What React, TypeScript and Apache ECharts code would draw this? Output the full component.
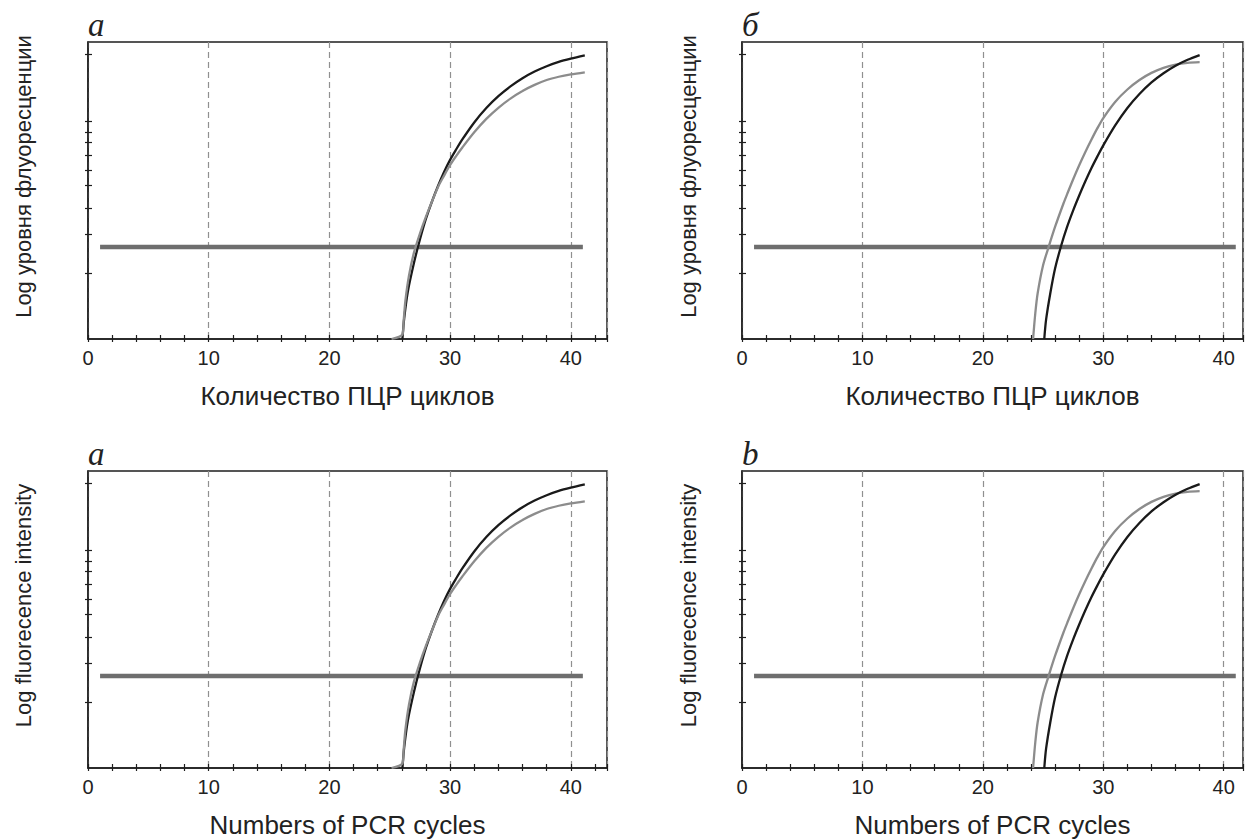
import React, { useEffect, useRef } from "react";
import * as echarts from "echarts";

// ---- data ----
const xTickLabels = [0, 10, 20, 30, 40];
const yTickValues = [22.1, 35.3, 44.0, 51.9, 56.9, 62.0, 66.4, 69.5, 73.2, 96.0];

const thresholdCycles = [1, 41];
const thresholdLevel = [31, 31];

// panel a (а)
const cyclesBlackA = [26.05, 26.2, 26.5, 27, 27.5, 28, 28.5, 29, 29.5, 30, 30.5, 31, 32, 33, 34, 35, 36, 37, 38, 39, 40, 41.16];
const fluorBlackA = [0, 7, 16, 25.5, 33.5, 40.5, 46.3, 51.5, 56.2, 60.3, 63.8, 67.1, 72.9, 77.75, 81.75, 85.05, 87.8, 90.05, 91.85, 93.3, 94.4, 95.5];
const cyclesGrayA = [25.15, 26.06, 26.15, 26.3, 26.6, 27, 27.5, 28, 28.5, 29, 29.5, 30, 30.5, 31, 32, 33, 34, 35, 36, 37, 38, 39, 40, 41.16];
const fluorGrayA = [0, 1.6, 6, 13, 21.5, 29, 35.5, 41.2, 46.3, 51.2, 55, 58.6, 61.6, 64.4, 69.6, 74.1, 77.85, 80.95, 83.5, 85.55, 87.2, 88.3, 89.1, 89.8];

// panel b (б)
const cyclesBlackB = [25.1, 25.25, 25.6, 26, 26.5, 27, 27.5, 28, 28.5, 29, 29.5, 30, 31, 32, 33, 34, 35, 36, 37, 38];
const fluorBlackB = [0, 6.5, 15.4, 23.8, 31.4, 37.8, 43.3, 48.3, 53, 57.4, 61.4, 65.2, 72, 77.8, 82.5, 86.4, 89.5, 92.0, 94.0, 95.6];
const cyclesGrayB = [24.17, 24.35, 24.55, 25, 25.47, 26, 26.7, 27, 27.5, 28, 28.5, 29, 29.5, 30, 31, 32, 33, 34, 35, 36, 37, 38];
const fluorGrayB = [0, 8.5, 15.4, 24.8, 31.1, 37.8, 45.7, 48.8, 53.8, 58.5, 62.9, 67, 70.9, 74.4, 79.9, 84.0, 87.2, 89.6, 91.3, 92.4, 93.0, 93.2];

const zip = (xs: number[], ys: number[]) => xs.map((x, i) => [x, ys[i]]);

const FONT = "Liberation Sans";
const DARK = "#1e1e1e";

type Panel = {
  left: number;
  top: number;
  width: number;
  xMax: number;
  letter: string;
  yName: string;
  xName: string;
  yNameGap: number;
  black: number[][];
  gray: number[][];
  grayOnTop: boolean;
};

const RU_Y = "Log уровня флуоресценции";
const RU_X = "Количество ПЦР циклов";
const EN_Y = "Log fluorecence intensity";
const EN_X = "Numbers of PCR cycles";

const panels: Panel[] = [
  { left: 88, top: 42, width: 519, xMax: 43, letter: "а", yName: RU_Y, xName: RU_X, yNameGap: 54, black: zip(cyclesBlackA, fluorBlackA), gray: zip(cyclesGrayA, fluorGrayA), grayOnTop: true },
  { left: 742, top: 42, width: 501, xMax: 41.6, letter: "б", yName: RU_Y, xName: RU_X, yNameGap: 43, black: zip(cyclesBlackB, fluorBlackB), gray: zip(cyclesGrayB, fluorGrayB), grayOnTop: false },
  { left: 88, top: 471, width: 519, xMax: 43, letter: "a", yName: EN_Y, xName: EN_X, yNameGap: 54, black: zip(cyclesBlackA, fluorBlackA), gray: zip(cyclesGrayA, fluorGrayA), grayOnTop: true },
  { left: 742, top: 471, width: 501, xMax: 41.6, letter: "b", yName: EN_Y, xName: EN_X, yNameGap: 43, black: zip(cyclesBlackB, fluorBlackB), gray: zip(cyclesGrayB, fluorGrayB), grayOnTop: false },
];

const PLOT_H = 297;

function buildOption() {
  const grid: any[] = [];
  const xAxis: any[] = [];
  const yAxis: any[] = [];
  const series: any[] = [];
  const graphic: any[] = [];

  panels.forEach((p, i) => {
    grid.push({
      left: p.left,
      top: p.top,
      width: p.width,
      height: PLOT_H,
      show: true,
      borderColor: DARK,
      borderWidth: 1.5,
      backgroundColor: "transparent",
      containLabel: false,
      outerBoundsMode: "none",
    });
    // main x axis: labels + inside ticks
    xAxis.push({
      gridIndex: i,
      type: "value",
      position: "bottom",
      min: 0,
      max: p.xMax,
      interval: 2,
      axisLine: { show: true, onZero: false, lineStyle: { color: DARK, width: 1.5 } },
      axisTick: { show: true, inside: true, length: 4, lineStyle: { color: DARK, width: 1.2 } },
      axisLabel: {
        show: true,
        customValues: xTickLabels,
        fontSize: 20,
        color: "#222",
        margin: 9,
        fontFamily: FONT,
      },
      splitLine: { show: false },
      name: p.xName,
      nameLocation: "middle",
      nameGap: 44,
      nameTextStyle: { fontSize: 26, color: "#222", fontFamily: FONT },
    });
    // outside ticks (to make crossing ticks)
    xAxis.push({
      gridIndex: i,
      type: "value",
      position: "bottom",
      min: 0,
      max: p.xMax,
      interval: 2,
      axisLine: { show: false },
      axisTick: { show: true, inside: false, length: 3, lineStyle: { color: DARK, width: 1.2 } },
      axisLabel: { show: false },
      splitLine: { show: false },
    });
    // dashed grid lines every 10 cycles
    xAxis.push({
      gridIndex: i,
      type: "value",
      position: "bottom",
      min: 0,
      max: p.xMax,
      interval: 10,
      axisLine: { show: false },
      axisTick: { show: false },
      axisLabel: { show: false },
      splitLine: { show: true, lineStyle: { color: "#909090", width: 1.2, type: [6, 4] } },
    });
    yAxis.push({
      gridIndex: i,
      type: "value",
      position: "left",
      min: 0,
      max: 100,
      axisLine: { show: true, onZero: false, lineStyle: { color: DARK, width: 1.5 } },
      axisTick: { show: true, inside: true, length: 4, customValues: yTickValues, lineStyle: { color: DARK, width: 1.2 } },
      axisLabel: { show: false },
      splitLine: { show: false },
      name: p.yName,
      nameLocation: "middle",
      nameGap: p.yNameGap,
      nameRotate: 90,
      nameTextStyle: { fontSize: 22, color: "#222", fontFamily: FONT, padding: [0, 0, 0, 28] },
    });
    yAxis.push({
      gridIndex: i,
      type: "value",
      position: "left",
      min: 0,
      max: 100,
      axisLine: { show: false },
      axisTick: { show: true, inside: false, length: 3, customValues: yTickValues, lineStyle: { color: DARK, width: 1.2 } },
      axisLabel: { show: false },
      splitLine: { show: false },
    });

    const xi = i * 3;
    const yi = i * 2;
    series.push({
      type: "line",
      xAxisIndex: xi,
      yAxisIndex: yi,
      data: zip(thresholdCycles, thresholdLevel),
      symbol: "none",
      silent: true,
      lineStyle: { color: "#6e6e6e", width: 4.5, cap: "butt" },
      z: 2,
    });
    const blackS = {
      type: "line",
      xAxisIndex: xi,
      yAxisIndex: yi,
      data: p.black,
      symbol: "none",
      smooth: 0.3,
      silent: true,
      lineStyle: { color: "#1a1a1a", width: 2.3 },
      z: p.grayOnTop ? 3 : 4,
    };
    const grayS = {
      type: "line",
      xAxisIndex: xi,
      yAxisIndex: yi,
      data: p.gray,
      symbol: "none",
      smooth: 0.3,
      silent: true,
      lineStyle: { color: "#8c8c8c", width: 2.3 },
      z: p.grayOnTop ? 4 : 3,
    };
    series.push(blackS, grayS);

    graphic.push({
      type: "text",
      x: p.left,
      y: p.top - 1,
      style: {
        text: p.letter,
        fontFamily: "Liberation Serif",
        fontStyle: "italic",
        fontSize: 33,
        fill: "#222",
        verticalAlign: "bottom",
        align: "left",
      },
    });
  });

  return {
    animation: false,
    backgroundColor: "#ffffff",
    grid,
    xAxis,
    yAxis,
    series,
    graphic,
  };
}

export default function App() {
  const ref = useRef<HTMLDivElement>(null);
  useEffect(() => {
    if (!ref.current) return;
    const chart = echarts.init(ref.current, undefined, { renderer: "svg" });
    chart.setOption(buildOption() as any);
    return () => chart.dispose();
  }, []);
  return (
    <div
      ref={ref}
      style={{ position: "fixed", left: 0, top: 0, width: 1250, height: 839, background: "#fff" }}
    />
  );
}
